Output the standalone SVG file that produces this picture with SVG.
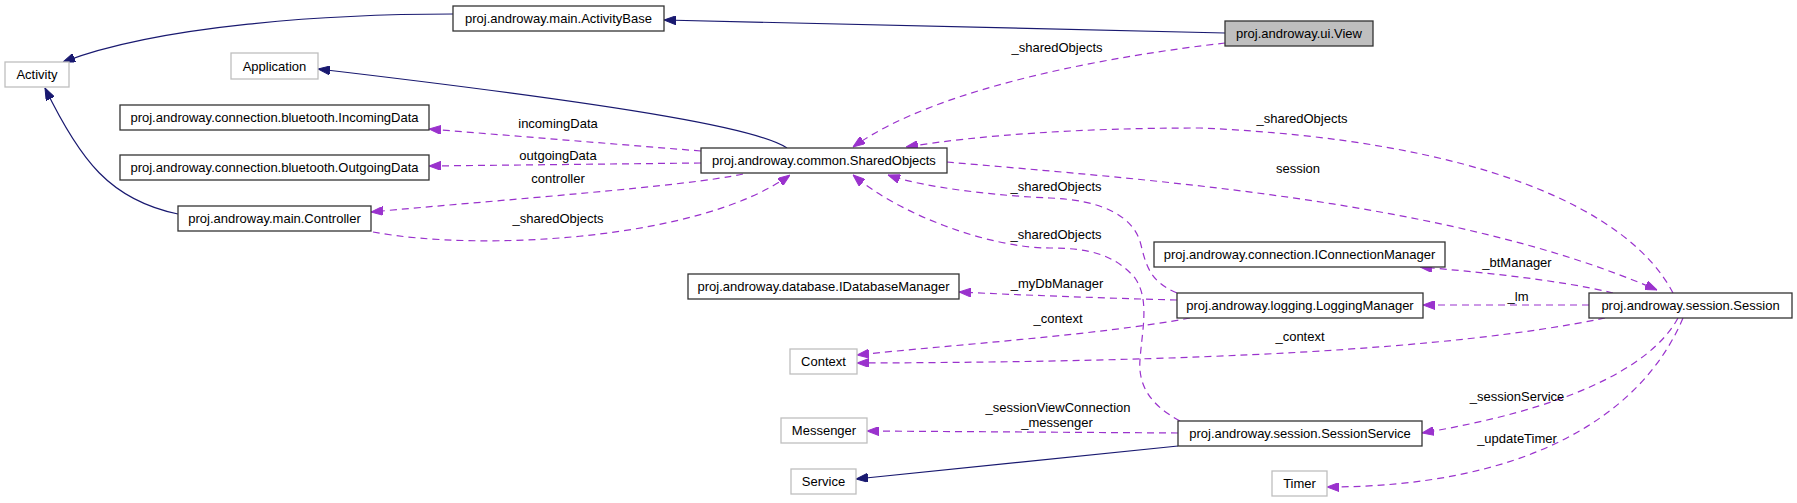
<svg xmlns="http://www.w3.org/2000/svg" width="1797" height="503" viewBox="0 0 1797 503">
<style>
text{font-family:"Liberation Sans",Arial,sans-serif;font-size:13px;fill:#000;text-anchor:middle}
.n rect{fill:#fff;stroke:#333;stroke-width:1.3}
.x rect{fill:#fff;stroke:#bfbfbf;stroke-width:1.3}
.g rect{fill:#bfbfbf;stroke:#333;stroke-width:1.3}
.inh{fill:none;stroke:#191970;stroke-width:1.2;marker-end:url(#ai)}
.use{fill:none;stroke:#9a32cd;stroke-width:1.2;stroke-dasharray:7,5;marker-end:url(#au)}
</style>
<defs>
<marker id="ai" viewBox="0 0 12 9" refX="12" refY="4.5" markerWidth="12" markerHeight="9" markerUnits="userSpaceOnUse" orient="auto"><path d="M0,0 L12,4.5 L0,9 z" fill="#191970" stroke="#191970" stroke-width="1" stroke-dasharray="none"/></marker>
<marker id="au" viewBox="0 0 12 9" refX="12" refY="4.5" markerWidth="12" markerHeight="9" markerUnits="userSpaceOnUse" orient="auto"><path d="M0,0 L12,4.5 L0,9 z" fill="#9a32cd" stroke="#9a32cd" stroke-width="1" stroke-dasharray="none"/></marker>
</defs>
<rect width="1797" height="503" fill="#fff"/>
<g id="edges">
<path class="inh" d="M453,14 C330,14 160,25 63,62"/>
<path class="inh" d="M1225,33 L664,20"/>
<path class="use" d="M1225,43 C1120,55 940,85 853,147"/>
<path class="inh" d="M787,148 C760,130 650,108 318,69"/>
<path class="use" d="M701,151 L429,129"/>
<path class="use" d="M701,163 L429,166"/>
<path class="use" d="M743,174 C690,186 500,200 371,212"/>
<path class="use" d="M373,232 C480,252 700,240 790,175"/>
<path class="inh" d="M178,214 C110,200 80,160 45,88"/>
<path class="use" d="M1673,293 C1630,210 1480,140 1200,128 C1080,128 980,135 906,147"/>
<path class="use" d="M947,162 C1150,180 1450,200 1657,290"/>
<path class="use" d="M1177,293 C1150,282 1146,265 1141,245 C1134,215 1100,200 1050,198 C1000,196 925,188 888,175"/>
<path class="use" d="M1180,421 C1150,405 1138,385 1140,360 C1142,330 1150,300 1135,278 C1115,255 1090,248 1050,248 C990,248 900,215 853,175"/>
<path class="use" d="M1177,300 C1100,298 1020,295 959,292"/>
<path class="use" d="M1190,318 C1100,335 950,345 857,355"/>
<path class="use" d="M1605,318 C1450,350 1200,362 857,363"/>
<path class="use" d="M1613,293 C1560,280 1480,272 1420,267"/>
<path class="use" d="M1589,305 L1423,305"/>
<path class="use" d="M1178,433 L867,431"/>
<path class="inh" d="M1178,446 L856,479"/>
<path class="use" d="M1678,318 C1650,370 1560,410 1422,433"/>
<path class="use" d="M1683,318 C1640,420 1520,487 1327,487"/>
<text x="1057" y="52">_sharedObjects</text>
<text x="1302" y="123">_sharedObjects</text>
<text x="558" y="128">incomingData</text>
<text x="558" y="160">outgoingData</text>
<text x="558" y="183">controller</text>
<text x="558" y="223">_sharedObjects</text>
<text x="1298" y="173">session</text>
<text x="1056" y="191">_sharedObjects</text>
<text x="1056" y="239">_sharedObjects</text>
<text x="1517" y="267">_btManager</text>
<text x="1518" y="301">_lm</text>
<text x="1057" y="288">_myDbManager</text>
<text x="1058" y="323">_context</text>
<text x="1300" y="341">_context</text>
<text x="1058" y="412">_sessionViewConnection</text>
<text x="1057" y="427">_messenger</text>
<text x="1517" y="401">_sessionService</text>
<text x="1517" y="443">_updateTimer</text>
</g>
<g id="ActivityBase" class="n"><rect x="453" y="6" width="211" height="25"/><text x="558.5" y="23">proj.androway.main.ActivityBase</text></g>
<g id="View" class="g"><rect x="1225" y="21" width="148" height="25"/><text x="1299" y="38">proj.androway.ui.View</text></g>
<g id="Activity" class="x"><rect x="5" y="62" width="64" height="25"/><text x="37" y="79">Activity</text></g>
<g id="Application" class="x"><rect x="231" y="53" width="87" height="26"/><text x="274.5" y="70.5">Application</text></g>
<g id="IncomingData" class="n"><rect x="120" y="105" width="309" height="25"/><text x="274.5" y="122">proj.androway.connection.bluetooth.IncomingData</text></g>
<g id="OutgoingData" class="n"><rect x="120" y="155" width="309" height="25"/><text x="274.5" y="172">proj.androway.connection.bluetooth.OutgoingData</text></g>
<g id="Controller" class="n"><rect x="178" y="206" width="193" height="25"/><text x="274.5" y="223">proj.androway.main.Controller</text></g>
<g id="SharedObjects" class="n"><rect x="701" y="148" width="246" height="25"/><text x="824" y="165">proj.androway.common.SharedObjects</text></g>
<g id="IConnectionManager" class="n"><rect x="1154" y="242" width="291" height="25"/><text x="1299.5" y="259">proj.androway.connection.IConnectionManager</text></g>
<g id="IDatabaseManager" class="n"><rect x="688" y="274" width="271" height="25"/><text x="823.5" y="291">proj.androway.database.IDatabaseManager</text></g>
<g id="LoggingManager" class="n"><rect x="1177" y="293" width="246" height="25"/><text x="1300" y="310">proj.androway.logging.LoggingManager</text></g>
<g id="Session" class="n"><rect x="1589" y="293" width="203" height="25"/><text x="1690.5" y="310">proj.androway.session.Session</text></g>
<g id="Context" class="x"><rect x="790" y="349" width="67" height="25"/><text x="823.5" y="366">Context</text></g>
<g id="Messenger" class="x"><rect x="781" y="418" width="86" height="25"/><text x="824" y="435">Messenger</text></g>
<g id="SessionService" class="n"><rect x="1178" y="421" width="244" height="25"/><text x="1300" y="438">proj.androway.session.SessionService</text></g>
<g id="Service" class="x"><rect x="791" y="469" width="65" height="25"/><text x="823.5" y="486">Service</text></g>
<g id="Timer" class="x"><rect x="1272" y="471" width="55" height="25"/><text x="1299.5" y="488">Timer</text></g>
</svg>
